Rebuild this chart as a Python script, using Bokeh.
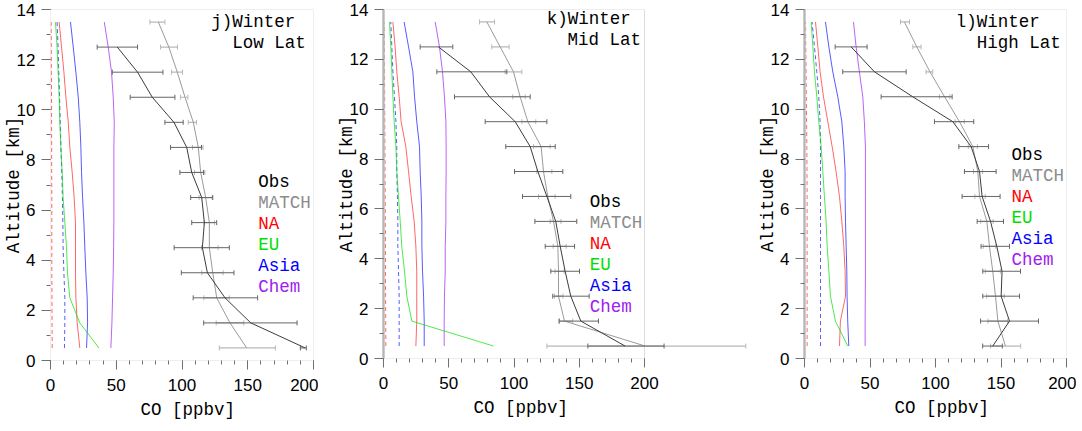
import numpy as np
from bokeh.plotting import figure
from bokeh.layouts import row
from bokeh.models import Label, BoxAnnotation, FixedTicker, Range1d, Title
from bokeh.embed import file_html
from bokeh.resources import INLINE

# ---------------- data (values listed from 0.5 km upward) ----------------
alt = [0.5, 1.5, 2.5, 3.5, 4.5, 5.5, 6.5, 7.5, 8.5, 9.5, 10.5, 11.5, 12.5, 13.5]
alt_obs = alt[:13]

legend_names = ["Obs", "MATCH", "NA", "EU", "Asia", "Chem"]
x_ticks = [0, 50, 100, 150, 200]
y_ticks = [0, 2, 4, 6, 8, 10, 12, 14]

# j) Winter Low Lat
j_obs = [193.7, 152.3, 132.7, 119.3, 115.5, 117.0, 115.0, 107.4, 103.6, 93.9, 77.4, 66.2, 50.8]
j_obs_lo = [190.0, 116.5, 108.5, 99.5, 94.0, 107.4, 106.6, 98.4, 91.3, 87.0, 60.6, 47.0, 35.5]
j_obs_hi = [194.5, 187.5, 157.5, 139.5, 136.0, 126.4, 123.4, 116.4, 114.8, 100.9, 94.6, 85.5, 66.2]
j_match = [149.2, 136.5, 126.4, 123.4, 120.8, 120.8, 118.0, 114.2, 112.4, 108.6, 102.3, 96.4, 90.0, 82.0]
j_match_lo = [128.4, 126.0, 116.6, 115.0, 114.8, 116.9, 113.0, 109.5, 108.0, 104.7, 98.9, 92.0, 83.7, 75.6]
j_match_hi = [171.0, 147.0, 136.0, 131.3, 127.5, 124.7, 123.0, 117.4, 116.0, 111.0, 104.5, 100.4, 96.6, 87.0]
j_na = [22.3, 20.3, 19.3, 19.0, 19.0, 19.0, 18.0, 16.5, 14.7, 13.5, 11.7, 10.2, 8.4, 6.6]
j_na_dash = [1.3, 1.2, 1.1, 1.0, 1.0, 1.0, 1.0, 0.9, 0.9, 0.8, 0.8, 0.7, 0.6, 0.5]
j_eu = [36.8, 22.3, 14.7, 12.9, 12.2, 10.9, 9.6, 8.9, 7.9, 7.1, 6.6, 5.8, 5.0, 3.8]
j_asia = [27.4, 28.2, 27.9, 26.9, 26.1, 25.4, 24.4, 23.6, 23.1, 22.3, 21.1, 19.3, 17.3, 15.2]
j_asia_dash = [10.6, 10.9, 10.9, 10.2, 9.6, 9.4, 9.1, 8.6, 7.9, 7.4, 6.9, 6.3, 5.8, 5.0]
j_chem = [45.9, 46.7, 47.2, 47.7, 48.0, 48.2, 48.2, 48.2, 48.2, 48.5, 47.7, 46.4, 43.9, 40.9]

# k) Winter Mid Lat
k_obs = [185.1, 151.2, 143.5, 139.2, 135.4, 132.0, 125.2, 118.3, 112.4, 100.9, 81.2, 66.9, 42.1]
k_obs_lo = [156.6, 134.6, 129.7, 128.2, 123.9, 116.0, 106.5, 100.4, 93.7, 77.9, 54.4, 40.9, 28.1]
k_obs_hi = [215.0, 164.7, 157.6, 150.2, 146.4, 148.1, 143.5, 137.4, 131.6, 125.2, 112.4, 94.5, 53.1]
k_match = [200.5, 138.7, 134.1, 134.1, 133.6, 130.3, 125.9, 122.6, 120.8, 110.6, 104.7, 99.6, 89.4, 79.2]
k_match_lo = [125.2, 134.6, 131.0, 131.5, 130.0, 127.7, 118.8, 117.5, 115.0, 106.0, 99.0, 93.2, 83.0, 73.6]
k_match_hi = [277.6, 145.0, 137.5, 138.4, 140.0, 136.0, 131.5, 129.0, 127.7, 116.7, 108.6, 106.0, 96.3, 85.1]
k_na = [24.8, 25.5, 25.5, 25.5, 24.8, 23.5, 21.2, 19.2, 17.1, 13.5, 12.0, 10.2, 8.9, 7.2]
k_na_dash = [1.8, 1.7, 1.6, 1.5, 1.5, 1.4, 1.3, 1.2, 1.1, 1.0, 0.9, 0.8, 0.7, 0.5]
k_eu = [84.3, 21.7, 17.9, 16.1, 14.0, 12.8, 11.5, 10.2, 9.5, 8.2, 7.2, 6.4, 5.6, 4.6]
k_asia = [31.2, 31.2, 30.7, 29.9, 29.4, 29.4, 28.9, 28.1, 27.6, 25.5, 23.8, 22.5, 19.2, 15.8]
k_asia_dash = [12.0, 12.0, 12.0, 11.5, 11.0, 11.0, 10.7, 10.2, 10.2, 9.5, 8.4, 7.2, 6.4, 5.6]
k_chem = [46.5, 46.5, 46.7, 47.3, 47.3, 47.8, 47.8, 48.0, 48.0, 47.8, 46.7, 45.2, 42.9, 39.6]

# l) Winter High Lat
l_obs = [143.7, 156.5, 150.1, 150.8, 146.8, 142.0, 135.6, 133.6, 127.2, 113.2, 82.6, 53.4, 35.6]
l_obs_lo = [136.0, 134.4, 136.1, 136.1, 134.8, 131.8, 120.3, 122.1, 117.8, 99.2, 58.5, 29.2, 23.4]
l_obs_hi = [151.0, 178.6, 164.1, 164.9, 156.5, 151.9, 149.3, 146.3, 140.5, 129.2, 112.7, 77.6, 47.8]
l_match = [153.4, 147.6, 145.8, 143.7, 141.2, 139.2, 133.6, 132.3, 128.5, 118.3, 106.9, 95.8, 85.7, 76.3]
l_match_lo = [142.0, 140.0, 139.0, 138.0, 136.5, 134.5, 130.0, 129.0, 125.0, 115.0, 103.0, 92.8, 82.7, 73.3]
l_match_hi = [165.0, 155.0, 152.5, 149.5, 146.0, 144.0, 138.0, 136.0, 132.0, 122.0, 111.0, 97.9, 89.0, 80.2]
l_na = [26.7, 27.4, 31.3, 31.0, 30.0, 28.5, 26.7, 24.1, 21.1, 17.8, 14.5, 11.9, 10.2, 8.4]
l_na_dash = [2.0, 2.0, 2.0, 2.0, 2.0, 2.0, 2.0, 1.9, 1.8, 1.6, 1.4, 1.2, 1.0, 0.8]
l_eu = [33.0, 23.6, 19.8, 18.6, 17.3, 16.5, 15.2, 14.0, 12.7, 10.9, 9.4, 7.6, 6.4, 5.1]
l_asia = [33.8, 33.0, 32.5, 32.3, 31.8, 31.3, 31.0, 31.0, 30.0, 28.5, 25.4, 21.6, 18.6, 16.0]
l_asia_dash = [12.2, 12.2, 12.2, 12.2, 12.2, 12.2, 12.2, 12.2, 12.2, 11.9, 10.9, 9.4, 7.6, 5.8]
l_chem = [46.3, 46.3, 46.4, 46.5, 46.5, 46.5, 46.5, 46.5, 46.5, 45.7, 44.5, 41.9, 39.4, 37.4]

# ---------------- styling ----------------
MONO = "Liberation Mono"
SANS = "Liberation Sans"
TXT = "17.5px"
C_OBS, C_MATCH = "#3c3c3c", "#9a9a9a"
C_OBS_BAR, C_MATCH_BAR = "#666666", "#b8b8b8"
C_NA, C_EU, C_ASIA, C_CHEM = "#ff0000", "#00e000", "#0000ff", "#a020f0"
legend_colors = ["#000000", "#8c8c8c", C_NA, C_EU, C_ASIA, C_CHEM]
FRAME = "#8a8a8a"


def panel(d, cfg):
    p = figure(frame_width=cfg["fw"], frame_height=cfg["fh"],
               x_range=Range1d(0, cfg["xend"]), y_range=Range1d(0, 14),
               output_backend="svg", toolbar_location=None,
               min_border_left=cfg["bl"], min_border_right=cfg["br"],
               min_border_top=cfg["bt"], min_border_bottom=cfg["bb"],
               background_fill_color="white", border_fill_color="white")
    p.outline_line_color = None
    p.xgrid.visible = False
    p.ygrid.visible = False

    for ax, ticks, minor in ((p.xaxis, x_ticks, list(range(0, 201, 10))),
                             (p.yaxis, y_ticks, list(range(0, 15)))):
        ax.ticker = FixedTicker(ticks=ticks, minor_ticks=minor)
        ax.major_tick_in = 0
        ax.minor_tick_in = 0
        ax.major_tick_out = 9
        ax.minor_tick_out = 4
        ax.major_tick_line_color = "#707070"
        ax.minor_tick_line_color = "#707070"
        ax.major_label_text_font = SANS
        ax.major_label_text_font_size = "17px"
        ax.major_label_text_color = "black"
        ax.major_label_standoff = 6
    p.xaxis.major_label_standoff = 9
    p.xaxis.axis_line_color = None
    if cfg["thick_left"]:
        p.yaxis.axis_line_color = "#bdbdbd"
        p.yaxis.axis_line_width = 2.5
    else:
        p.yaxis.axis_line_color = None
    p.yaxis.axis_label = "Altitude [km]"
    p.yaxis.axis_label_text_font = MONO
    p.yaxis.axis_label_text_font_size = TXT
    p.yaxis.axis_label_text_font_style = "normal"
    p.yaxis.axis_label_text_color = "black"
    p.yaxis.axis_label_standoff = -10

    # x-axis title, placed below the axis and aligned to the 0-200 frame
    p.add_layout(Title(text="CO [ppbv]", align="left", offset=90, standoff=8,
                       text_font=MONO, text_font_size=TXT, text_font_style="normal",
                       text_color="black"), "below")

    p.add_layout(BoxAnnotation(left=0, right=200, bottom=0, top=14,
                               fill_alpha=0, line_color=FRAME, line_width=1))

    # model contributions
    p.line(d["chem"], alt, color=C_CHEM, line_width=1, line_alpha=0.7)
    p.line(d["asia"], alt, color=C_ASIA, line_width=1, line_alpha=0.65)
    p.line(d["asia_dash"], alt, color=C_ASIA, line_width=1, line_alpha=0.65, line_dash="4 3")
    p.line(d["na"], alt, color=C_NA, line_width=1, line_alpha=0.6)
    p.line(d["na_dash"], alt, color=C_NA, line_width=1, line_alpha=0.6, line_dash="4 3")
    p.line(d["eu"], alt, color=C_EU, line_width=1, line_alpha=0.7)

    # MATCH with bars
    p.segment(x0=d["match_lo"], y0=alt, x1=d["match_hi"], y1=alt, color=C_MATCH_BAR, line_width=1.2)
    p.scatter(d["match_lo"] + d["match_hi"], alt + alt, marker="dash", angle=np.pi / 2,
              size=5, line_color=C_MATCH_BAR, line_width=1)
    p.line(d["match"], alt, color=C_MATCH, line_width=1)
    # Obs with bars
    p.segment(x0=d["obs_lo"], y0=alt_obs, x1=d["obs_hi"], y1=alt_obs, color=C_OBS_BAR, line_width=1)
    p.scatter(d["obs_lo"] + d["obs_hi"], alt_obs + alt_obs, marker="dash", angle=np.pi / 2,
              size=5, line_color=C_OBS_BAR, line_width=1)
    p.line(d["obs"], alt_obs, color=C_OBS, line_width=1)

    # panel title
    p.add_layout(Label(x=cfg["t1x"], y=cfg["t1y"], text=cfg["t1"], text_font=MONO,
                       text_font_size=TXT, text_baseline="middle", text_color="black"))
    p.add_layout(Label(x=cfg["t2x"], y=cfg["t2y"], text=cfg["t2"], text_font=MONO,
                       text_font_size=TXT, text_baseline="middle", text_color="black"))
    # legend text
    for i, (name, col) in enumerate(zip(legend_names, legend_colors)):
        p.add_layout(Label(x=158, y=cfg["ly"] - 0.84 * i, text=name, text_font=MONO,
                           text_font_size=TXT, text_baseline="middle", text_color=col))
    return p


d_j = dict(obs=j_obs, obs_lo=j_obs_lo, obs_hi=j_obs_hi, match=j_match, match_lo=j_match_lo,
           match_hi=j_match_hi, na=j_na, na_dash=j_na_dash, eu=j_eu, asia=j_asia,
           asia_dash=j_asia_dash, chem=j_chem)
d_k = dict(obs=k_obs, obs_lo=k_obs_lo, obs_hi=k_obs_hi, match=k_match, match_lo=k_match_lo,
           match_hi=k_match_hi, na=k_na, na_dash=k_na_dash, eu=k_eu, asia=k_asia,
           asia_dash=k_asia_dash, chem=k_chem)
d_l = dict(obs=l_obs, obs_lo=l_obs_lo, obs_hi=l_obs_hi, match=l_match, match_lo=l_match_lo,
           match_hi=l_match_hi, na=l_na, na_dash=l_na_dash, eu=l_eu, asia=l_asia,
           asia_dash=l_asia_dash, chem=l_chem)

c_j = dict(fw=263, fh=351, xend=200, bl=44, br=5, bt=7, bb=57, thick_left=False,
           t1="j)Winter", t1x=122.2, t1y=13.52, t2="Low Lat", t2x=138.2, t2y=12.65, ly=7.12)
c_k = dict(fw=366, fh=349, xend=366 / 1.305, bl=65, br=5, bt=9, bb=57, thick_left=True,
           t1="k)Winter", t1x=125.0, t1y=13.6, t2="Mid Lat", t2x=141.0, t2y=12.78, ly=6.26)
c_l = dict(fw=262, fh=349, xend=200, bl=46, br=10, bt=9, bb=57, thick_left=True,
           t1="l)Winter", t1x=115.5, t1y=13.5, t2="High Lat", t2x=131.5, t2y=12.67, ly=8.15)

layout = row(panel(d_j, c_j), panel(d_k, c_k), panel(d_l, c_l))

open("out.html", "w").write(file_html(layout, INLINE))
